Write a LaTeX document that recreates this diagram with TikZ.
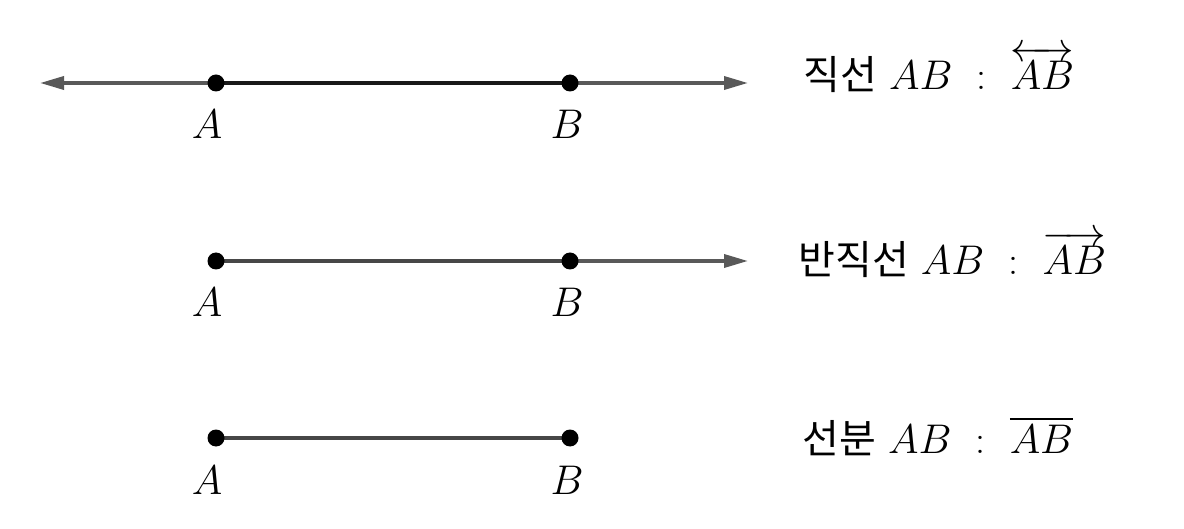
\documentclass[tikz,border=0pt]{standalone}
\usepackage{amsmath}
\usepackage{fontspec}
\newfontfamily\krfont{Noto Sans CJK KR}
\usetikzlibrary{arrows.meta, positioning}

\begin{document}
\begin{tikzpicture}[x=0.5pt, y=-0.5pt,
    ray/.style={line width=1.75pt, draw=black!65},
    seg/.style={line width=2pt, draw=black!72},
    tip/.style={-{Triangle[length=12pt, width=6.5pt]}},
    dot/.style={fill=black},
    ptlabel/.style={anchor=base, inner sep=0pt, font=\fontsize{20}{24}\selectfont},
    rowname/.style={anchor=base west, inner sep=0pt, font=\fontsize{20}{24}\selectfont}]
    \useasboundingbox (0,0) rectangle (1184,529);
    % 직선
    \coordinate (A1) at (216,83);
    \coordinate (B1) at (570,83);
    \coordinate (L1) at (40,83);
    \coordinate (R1) at (748,83);
    \draw[ray, tip] (A1) -- (L1);
    \draw[ray, tip] (B1) -- (R1);
    \draw[line width=2pt, black!90] (A1) -- (B1);
    % 반직선
    \coordinate (A2) at (216,261);
    \coordinate (B2) at (570,261);
    \coordinate (R2) at (748,261);
    \draw[seg] (A2) -- (B2);
    \draw[ray, tip] (B2) -- (R2);
    % 선분
    \coordinate (A3) at (216,438);
    \coordinate (B3) at (570,438);
    \draw[seg] (A3) -- (B3);
    % points and labels
    \foreach \r in {1,2,3} {
        \fill[dot] (A\r) circle (4.25pt);
        \fill[dot] (B\r) circle (4.25pt);
        \node[ptlabel] (lA\r) at ([shift={(-9,56)}]A\r) {$A$};
        \node[ptlabel] (lB\r) at ([shift={(-3,56)}]B\r) {$B$};
    }
    % names
    \node[rowname] (n1) at (803,90) {{\krfont 직선} $AB$\ \ :\ \ $\overleftrightarrow{AB}$};
    \node[rowname] (n2) at (798,275) {{\krfont 반직선} $AB$\ \ :\ \ $\overrightarrow{AB}$};
    \node[rowname] (n3) at (802,453) {{\krfont 선분} $AB$\ \ :\ \ $\overline{AB}$};
\end{tikzpicture}
\end{document}
